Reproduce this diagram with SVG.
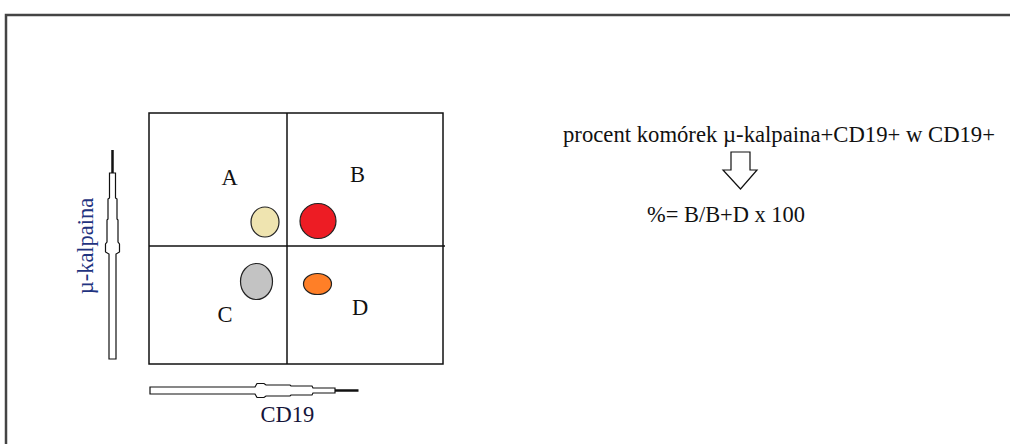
<svg xmlns="http://www.w3.org/2000/svg" width="1010" height="444" viewBox="0 0 1010 444">
  <style>
    .t { font-family: "Liberation Serif", "Times New Roman", serif; font-size: 22.5px; fill: #111; }
    .axis { font-family: "Liberation Serif", "Times New Roman", serif; font-size: 22.5px; fill: #1f3380; }
    .grid { fill: none; stroke: #111; stroke-width: 1.5; }
    .dot { stroke: #222; stroke-width: 1.2; }
    .shaft { fill: #fff; stroke: #111; stroke-width: 1.2; stroke-linejoin: miter; }
    .tip { stroke: #111; stroke-width: 2.5; }
  </style>

  <rect width="1010" height="444" fill="#fff"/>
  <!-- page frame -->
  <path d="M6 444 V15 H1010" fill="none" stroke="#444" stroke-width="2.5"/>

  <!-- quadrant plot -->
  <g id="plot">
    <rect class="grid" x="149" y="113" width="294" height="251"/>
    <line class="grid" x1="287" y1="113" x2="287" y2="364"/>
    <line class="grid" x1="149" y1="246" x2="445" y2="246"/>
  </g>

  <g id="quadrant-A">
    <text class="t" x="229.5" y="185" text-anchor="middle">A</text>
    <ellipse class="dot" cx="265" cy="222" rx="14" ry="15" fill="#efe4b0"/>
  </g>
  <g id="quadrant-B">
    <text class="t" x="357.5" y="182" text-anchor="middle">B</text>
    <ellipse class="dot" cx="318" cy="221" rx="18" ry="17.5" fill="#ed1c24"/>
  </g>
  <g id="quadrant-C">
    <text class="t" x="225" y="322" text-anchor="middle">C</text>
    <ellipse class="dot" cx="256.5" cy="281.5" rx="16" ry="18" fill="#c3c3c3"/>
  </g>
  <g id="quadrant-D">
    <text class="t" x="360" y="315" text-anchor="middle">D</text>
    <ellipse class="dot" cx="317.5" cy="284" rx="14" ry="10.5" fill="#ff7f27"/>
  </g>

  <!-- axes -->
  <g id="connectors">
    <!-- vertical axis: pencil-like arrow pointing up -->
    <g id="y-axis-arrow">
      <line class="tip" x1="112.5" y1="150" x2="112.5" y2="174"/>
      <path class="shaft" d="M109 359 V254 L105.5 252 V244 L107 242 V220 L108 219 V199 L109.5 198 V173 H115.5 V198 L117 199 V219 L118 220 V242 L119.5 244 V252 L116 254 V359 Z"/>
    </g>
    <!-- horizontal axis: pencil-like arrow pointing right -->
    <g id="x-axis-arrow">
      <line class="tip" x1="334" y1="390.5" x2="358.5" y2="390.5"/>
      <path class="shaft" d="M150 387 H255 L257 383.5 H264 L266 385 H290 L291 386 H312 L313 388 H335 V393 H313 L312 395 H291 L290 396 H266 L264 397.5 H257 L255 394 H150 Z"/>
    </g>
    <!-- hollow down arrow -->
    <path id="down-arrow" class="shaft" d="M731 152 H750 V170 H757 L740.5 189 L723 170 H731 Z"/>
  </g>

  <g id="labels">
    <text class="axis" transform="translate(93 246) rotate(-90)" text-anchor="middle">µ-kalpaina</text>
    <text class="t" x="287.5" y="421.5" text-anchor="middle" style="fill:#15153a">CD19</text>
  </g>

  <g id="formula">
    <text class="t" x="563" y="141.5" textLength="432" lengthAdjust="spacingAndGlyphs">procent komórek µ-kalpaina+CD19+ w CD19+</text>
    <text class="t" x="647" y="221.5" textLength="158" lengthAdjust="spacingAndGlyphs">%= B/B+D x 100</text>
  </g>
</svg>
